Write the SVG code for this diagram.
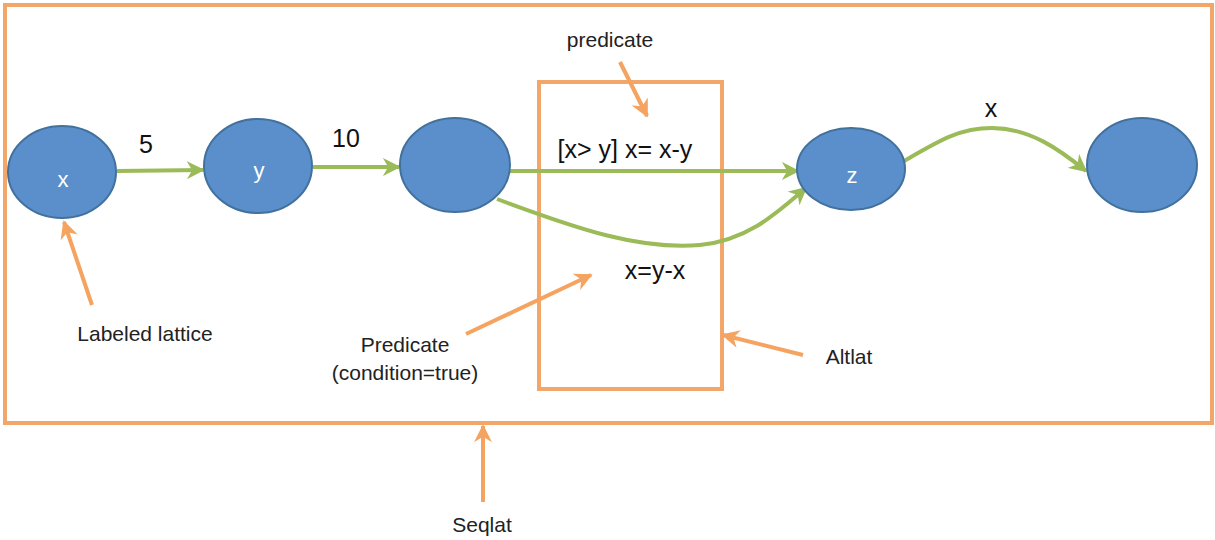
<svg xmlns="http://www.w3.org/2000/svg" width="1215" height="540" viewBox="0 0 1215 540">
<defs>
<style>
.frame{fill:none;stroke:#F2A66A;stroke-width:4}
.node{fill:#5A8FCB;stroke:#41719C;stroke-width:2}
.nl{font-family:"Liberation Sans",Arial,sans-serif;font-size:22px;fill:#FFFFFF;text-anchor:middle}
.edge{fill:none;stroke:#9BBB59;stroke-width:4}
.ann{fill:none;stroke:#F4A460;stroke-width:4}
.el{font-family:"Liberation Sans",Arial,sans-serif;font-size:25px;fill:#111111;text-anchor:middle}
.al{font-family:"Liberation Sans",Arial,sans-serif;font-size:21px;fill:#222222;text-anchor:middle}
</style>
<marker id="ga" viewBox="0 0 10 10" refX="9" refY="5" markerWidth="4.5" markerHeight="4.5" orient="auto" markerUnits="strokeWidth">
<path d="M0,0 L10,5 L0,10 L3,5 z" fill="#9BBB59"/>
</marker>
<marker id="oa" viewBox="0 0 10 10" refX="9" refY="5" markerWidth="4.5" markerHeight="4.5" orient="auto" markerUnits="strokeWidth">
<path d="M0,0 L10,5 L0,10 L3,5 z" fill="#F4A460"/>
</marker>
</defs>
<rect width="1215" height="540" fill="#FFFFFF"/>
<g id="seqlat-frame">
<rect class="frame" x="5" y="5" width="1207" height="418"/>
</g>
<g id="altlat-frame">
<rect class="frame" x="539" y="82" width="183" height="307"/>
</g>
<g id="connectors">
<path class="edge" d="M117,171 L203,170" marker-end="url(#ga)"/>
<path class="edge" d="M313,167 L399,167" marker-end="url(#ga)"/>
<path class="edge" d="M509,171 L798,171" marker-end="url(#ga)"/>
<path class="edge" d="M497,199 C580,230 640,250 700,245 C750,240 780,210 806,188" marker-end="url(#ga)"/>
<path class="edge" d="M904,161 C940,140 960,128 992,128 C1030,128 1060,150 1086,171" marker-end="url(#ga)"/>
<path class="ann" d="M620,62 L647,116" marker-end="url(#oa)"/>
<path class="ann" d="M92,305 L64,222" marker-end="url(#oa)"/>
<path class="ann" d="M466,334 L591,275" marker-end="url(#oa)"/>
<path class="ann" d="M803,355 L723,335" marker-end="url(#oa)"/>
<path class="ann" d="M483,502 L483,426" marker-end="url(#oa)"/>
</g>
<g id="node-x">
<ellipse class="node" cx="62" cy="172" rx="54" ry="46"/>
<text class="nl" x="63" y="187">x</text>
</g>
<g id="node-y">
<ellipse class="node" cx="258" cy="166" rx="54" ry="47"/>
<text class="nl" x="259" y="178">y</text>
</g>
<g id="node-mid">
<ellipse class="node" cx="455" cy="165" rx="55" ry="47"/>
</g>
<g id="node-z">
<ellipse class="node" cx="851" cy="169" rx="54" ry="41"/>
<text class="nl" x="852" y="183">z</text>
</g>
<g id="node-end">
<ellipse class="node" cx="1142" cy="165" rx="55" ry="47"/>
</g>
<g id="labels">
<text class="el" x="146" y="153">5</text>
<text class="el" x="346" y="147">10</text>
<text class="el" x="625" y="158">[x&gt; y] x= x-y</text>
<text class="el" x="655" y="279">x=y-x</text>
<text class="el" x="991" y="117">x</text>
<text class="al" x="610" y="47">predicate</text>
<text class="al" x="145" y="341">Labeled lattice</text>
<text class="al" x="405" y="352">Predicate</text>
<text class="al" x="405" y="380">(condition=true)</text>
<text class="al" x="849" y="364">Altlat</text>
<text class="al" x="482" y="532">Seqlat</text>
</g>
</svg>
